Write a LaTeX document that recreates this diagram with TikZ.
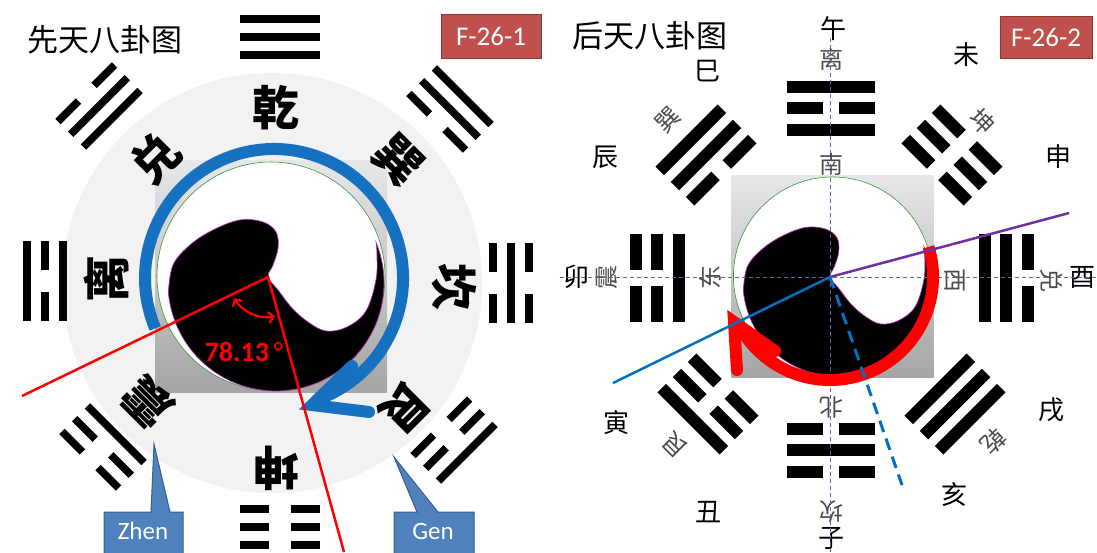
\documentclass[tikz,border=0pt]{standalone}
\usepackage{fontspec}
\setmainfont{Carlito}
\newfontfamily\cjk{Noto Sans CJK SC}
\usetikzlibrary{arrows.meta}
\definecolor{ringblue}{RGB}{22,114,192}
\definecolor{lineblue}{RGB}{0,112,192}
\definecolor{purp}{RGB}{112,48,160}
\definecolor{fred}{RGB}{192,80,77}
\definecolor{fredline}{RGB}{140,56,54}
\definecolor{callfill}{RGB}{79,129,189}
\definecolor{callline}{RGB}{56,93,138}
\definecolor{discgray}{RGB}{242,242,242}
\definecolor{sqtop}{RGB}{230,231,233}
\definecolor{sqbot}{RGB}{165,165,165}
\definecolor{ringgreen}{RGB}{60,150,60}
\definecolor{yyedge}{RGB}{170,40,170}
\definecolor{crossblue}{RGB}{80,110,160}
\def\tgL{80}\def\tgT{7.5}\def\tgS{18}\def\tgG{22}
\newcommand\yaoline[2]{%
  \ifnum#1=1
    \fill ({-\tgL/2},{#2-\tgT/2}) rectangle ({\tgL/2},{#2+\tgT/2});
  \else
    \fill ({-\tgL/2},{#2-\tgT/2}) rectangle ({-\tgG/2},{#2+\tgT/2});
    \fill ({\tgG/2},{#2-\tgT/2}) rectangle ({\tgL/2},{#2+\tgT/2});
  \fi}
\newcommand\trigram[6]{%
  \begin{scope}[shift={(#1,#2)},rotate=#3,y=1pt]
    \yaoline{#4}{\tgS}\yaoline{#5}{0}\yaoline{#6}{-\tgS}
  \end{scope}}
\newcommand\yinyangcore{%
  \shade[top color=sqtop,bottom color=sqbot] (-113,-117) rectangle (119,115);
  \filldraw[fill=white,draw=ringgreen,line width=0.6pt] (3,-1) circle[radius=114];
  \filldraw[fill=black,draw=yyedge,line width=0.7pt]
    (108.1,-34.5) arc[start angle=-22,end angle=175,radius=108]
    -- plot[smooth,tension=0.6] coordinates {(-99.6,15.4) (-95,-12) (-78,-32) (-55,-47) (-28,-57) (-5,-55) (8,-45) (10,-29) (5,-12) (0,0) (10,13) (24,31) (40,45) (58,54) (79,50) (98,34) (108,3) (109,-22) (108.1,-34.5)} -- cycle;
}
\begin{document}
\begin{tikzpicture}[x=1pt,y=-1pt,
  bigchar/.style={font=\cjk\bfseries\fontsize{47}{47}\selectfont,inner sep=0pt},
  branch/.style={font=\cjk\fontsize{26}{26}\selectfont,inner sep=0pt},
  dirchar/.style={font=\cjk\fontsize{24}{24}\selectfont,inner sep=0pt,text=black!70},
  titletext/.style={font=\cjk\fontsize{31}{31}\selectfont,inner sep=0pt},
  fbox/.style={fill=fred,draw=fredline,line width=0.8pt,text=white,font=\fontsize{27}{27}\selectfont,inner sep=0pt},
  calltext/.style={text=white,font=\fontsize{25}{25}\selectfont,inner sep=0pt},
  callout/.style={fill=callfill,draw=callline,line width=1pt},
  redline/.style={red,line width=2.5pt},
  thickarrow/.style={line width=12pt},
  crossline/.style={crossblue,line width=0.8pt,dash pattern=on 4pt off 3pt}]
\useasboundingbox (0,0) rectangle (1097,552);
\clip (0,0) rectangle (1097,552);
\fill[white] (0,0) rectangle (1097,552);

% ================= LEFT PANEL =================
\fill[discgray] (272,283) circle[radius=210];
\node[titletext] (t1) at (105,40) {先天八卦图};
\node[fbox,minimum width=100pt,minimum height=44pt] (f1) at (491,36) {F-26-1};

\def\tgL{80}\def\tgT{7.5}\def\tgS{18}\def\tgG{22}
\trigram{280}{37}{0}{1}{1}{1}
\trigram{280}{527}{180}{0}{0}{0}
\trigram{45}{281}{90}{1}{0}{1}
\trigram{511}{283}{-90}{0}{1}{0}
\trigram{99}{106}{45}{0}{1}{1}
\trigram{450}{109}{-45}{1}{1}{0}
\trigram{103}{447}{135}{0}{0}{1}
\trigram{454}{440}{-135}{1}{0}{0}

\begin{scope}[shift={(268,277)}]
  \yinyangcore
\end{scope}

\node[bigchar] (lqian) at (276,108) {乾};
\node[bigchar,rotate=45] (ldui) at (155,158) {兑};
\node[bigchar,rotate=-45] (lxun) at (398,160) {巽};
\node[bigchar,rotate=90] (lli) at (106,279) {离};
\node[bigchar,rotate=-90] (lkan) at (454,287) {坎};
\node[bigchar,rotate=135] (lzhen) at (148,402) {震};
\node[bigchar,rotate=-135] (lgen) at (405,408) {艮};
\node[bigchar,rotate=180] (lkun) at (276,468) {坤};

% blue rotating arrow
\draw[ringblue,thickarrow] (155.3,328.4) arc[start angle=157,end angle=428,radius=129];
\draw[ringblue,thickarrow,line cap=round,line join=miter] (352,366) -- (312,405) -- (369,412);

% red lines and angle
\coordinate (c1) at (268,277);
\coordinate (r1) at (22,396);
\coordinate (r2) at (344,552);
\draw[redline] (r1) -- (c1) -- (r2);
\draw[red,line width=2.2pt,{Straight Barb[length=5pt,width=11pt]}-{Straight Barb[length=5pt,width=11pt]}]
  (234.1,298.2) arc[start angle=148,end angle=80,radius=40];
\node[text=red,font=\bfseries\fontsize{28}{28}\selectfont,inner sep=0pt] (ang) at (244,352) {78.13\,{\mdseries°}};

% callouts
\filldraw[callout] (104,560) -- (104,512) -- (151,512) -- (154,444) -- (170,512) -- (183,512) -- (183,560) -- cycle;
\node[calltext] (zhen) at (143,531) {Zhen};
\filldraw[callout] (394,560) -- (394,512) -- (417,512) -- (394,457) -- (438,512) -- (474,512) -- (474,560) -- cycle;
\node[calltext] (gen) at (433,531) {Gen};

% ================= RIGHT PANEL =================
\node[titletext] (t2) at (650,36) {后天八卦图};
\node[fbox,minimum width=92pt,minimum height=42pt] (f2) at (1046,37) {F-26-2};

\def\tgL{88}\def\tgT{12}\def\tgS{21.5}\def\tgG{16}
\trigram{831}{108}{0}{1}{0}{1}
\trigram{831}{450}{180}{0}{1}{0}
\trigram{657}{278}{90}{0}{0}{1}
\trigram{1006}{278}{-90}{0}{1}{1}
\trigram{706}{155}{45}{1}{1}{0}
\trigram{952}{155}{-45}{0}{0}{0}
\trigram{708}{404}{135}{1}{0}{0}
\trigram{955}{404}{-135}{1}{1}{1}

\node[branch] (wu) at (833,29) {午};
\node[dirchar] (rli) at (831,59) {离};
\node[dirchar] (nan) at (831,164) {南};
\node[branch] (wei) at (966,55) {未};
\node[branch] (si) at (707,71) {巳};
\node[branch] (chen) at (605,157) {辰};
\node[branch] (shen) at (1058,157) {申};
\node[dirchar,rotate=45] (rxun) at (668,120) {巽};
\node[dirchar,rotate=-45] (rkun) at (982,122) {坤};
\node[branch] (mao) at (576,277) {卯};
\node[dirchar,rotate=90] (rzhen) at (607,277) {震};
\node[dirchar,rotate=90] (dong) at (710,277) {东};
\node[dirchar,rotate=-90] (xi) at (955,280) {西};
\node[dirchar,rotate=-90] (rdui) at (1052,280) {兑};
\node[branch] (you) at (1082,277) {酉};
\node[dirchar,rotate=180] (bei) at (831,408) {北};
\node[dirchar,rotate=180] (rkan) at (831,512) {坎};
\node[branch] (zi) at (831,538) {子};
\node[branch] (yin) at (616,423) {寅};
\node[branch] (xu) at (1051,410) {戌};
\node[branch] (chou) at (708,512) {丑};
\node[branch] (hai) at (954,495) {亥};
\node[dirchar,rotate=135] (rgen) at (675,445) {艮};
\node[dirchar,rotate=-135] (rqian) at (993,441) {乾};

\begin{scope}[shift={(830,277)},scale=0.87]
  \yinyangcore
\end{scope}

% crosshair
\draw[crossline] (830,38) -- (830,552);
\draw[crossline] (560,277) -- (1097,277);

% red arrow
\draw[red,thickarrow] (928.5,246.9) arc[start angle=-17,end angle=150,radius=103];
\draw[red,thickarrow,line cap=round,line join=miter] (737,370) -- (734,322) -- (775,351);

% lines from centre
\coordinate (c2) at (830,277);
\coordinate (pe) at (1069,213);
\coordinate (be) at (613,383);
\coordinate (de) at (902,485);
\draw[purp,line width=2.5pt] (c2) -- (pe);
\draw[lineblue,line width=2.5pt] (c2) -- (be);
\draw[lineblue,line width=3pt,dash pattern=on 12pt off 7pt] (c2) -- (de);
\end{tikzpicture}
\end{document}
